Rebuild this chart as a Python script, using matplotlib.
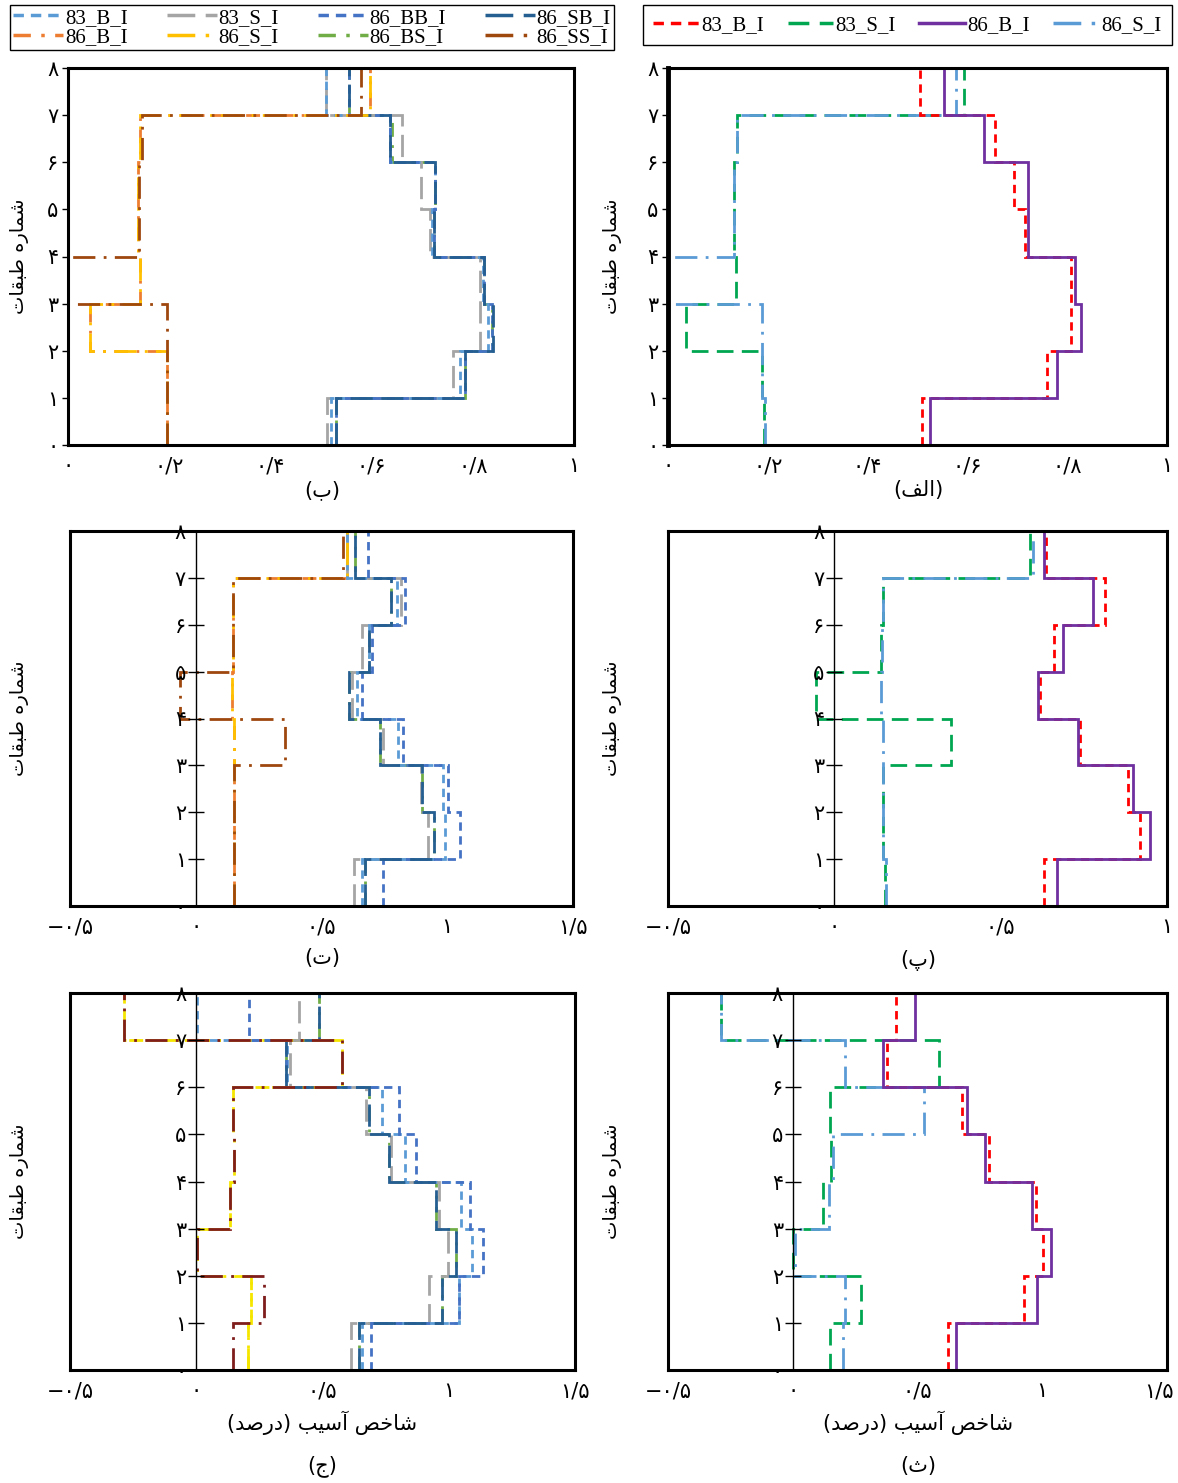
import matplotlib
matplotlib.use("Agg")
import matplotlib.pyplot as plt
from matplotlib.lines import Line2D
from matplotlib.transforms import ScaledTranslation
import numpy as np

W, H = 1178, 1483
plt.rcParams["font.family"] = ["DejaVu Sans"]

# storey levels and tick values
floor_edges = np.arange(0, 9)
floor_ticks = [0, 1, 2, 3, 4, 5, 6, 7, 8]
xticks_top = [0, 0.2, 0.4, 0.6, 0.8, 1]
xticks_wide = [-0.5, 0, 0.5, 1, 1.5]
xticks_mid_right = [-0.5, 0, 0.5, 1]

# damage index of each storey, storey 1 (bottom) .. storey 8 (top)
panel_b = {
    "83_B_I":  [0.520, 0.775, 0.830, 0.820, 0.720, 0.725, 0.637, 0.510],
    "83_S_I":  [0.512, 0.761, 0.814, 0.814, 0.715, 0.698, 0.660, 0.510],
    "86_BB_I": [0.529, 0.784, 0.837, 0.822, 0.723, 0.725, 0.637, 0.556],
    "86_SB_I": [0.529, 0.784, 0.840, 0.822, 0.723, 0.725, 0.637, 0.556],
    "86_B_I":  [0.195, 0.195, 0.043, 0.142, 0.139, 0.139, 0.142, 0.596],
    "86_S_I":  [0.195, 0.195, 0.043, 0.142, 0.139, 0.139, 0.142, 0.596],
    "86_BS_I": [0.529, 0.784, 0.837, 0.822, 0.723, 0.725, 0.640, 0.556],
    "86_SS_I": [0.195, 0.195, 0.195, 0.000, 0.140, 0.140, 0.146, 0.580],
}
panel_alef = {
    "83_B_I": [0.509, 0.759, 0.807, 0.807, 0.715, 0.693, 0.656, 0.506],
    "83_S_I": [0.193, 0.189, 0.036, 0.137, 0.133, 0.132, 0.139, 0.593],
    "86_B_I": [0.526, 0.780, 0.828, 0.815, 0.721, 0.721, 0.633, 0.553],
    "86_S_I": [0.194, 0.189, 0.189, 0.000, 0.133, 0.132, 0.139, 0.578],
}
panel_te = {
    "83_B_I":  [0.660, 0.990, 0.985, 0.805, 0.640, 0.690, 0.800, 0.600],
    "83_S_I":  [0.630, 0.922, 0.897, 0.744, 0.620, 0.660, 0.817, 0.600],
    "86_BB_I": [0.744, 1.049, 1.003, 0.825, 0.660, 0.700, 0.833, 0.683],
    "86_SB_I": [0.673, 0.947, 0.901, 0.732, 0.610, 0.690, 0.778, 0.635],
    "86_B_I":  [0.154, 0.151, 0.151, 0.151, 0.143, 0.148, 0.148, 0.600],
    "86_S_I":  [0.154, 0.151, 0.151, 0.151, 0.143, 0.148, 0.148, 0.600],
    "86_BS_I": [0.673, 0.947, 0.901, 0.732, 0.610, 0.690, 0.778, 0.635],
    "86_SS_I": [0.154, 0.151, 0.151, 0.356, -0.062, 0.148, 0.148, 0.584],
}
panel_pe = {
    "83_B_I": [0.631, 0.920, 0.884, 0.738, 0.619, 0.661, 0.815, 0.636],
    "83_S_I": [0.152, 0.147, 0.147, 0.351, -0.054, 0.141, 0.147, 0.589],
    "86_B_I": [0.670, 0.948, 0.898, 0.733, 0.611, 0.688, 0.777, 0.631],
    "86_S_I": [0.154, 0.147, 0.147, 0.147, 0.141, 0.144, 0.147, 0.597],
}
panel_jim = {
    "83_B_I":  [0.655, 1.042, 1.094, 1.049, 0.827, 0.736, 0.360, 0.003],
    "83_S_I":  [0.611, 0.921, 0.999, 0.963, 0.772, 0.671, 0.372, 0.407],
    "86_BB_I": [0.691, 1.042, 1.135, 1.084, 0.872, 0.804, 0.354, 0.210],
    "86_SB_I": [0.646, 0.974, 1.029, 0.951, 0.765, 0.686, 0.354, 0.487],
    "86_B_I":  [0.203, 0.218, 0.003, 0.135, 0.150, 0.147, 0.577, -0.286],
    "86_S_I":  [0.203, 0.218, 0.003, 0.135, 0.150, 0.147, 0.577, -0.286],
    "86_BS_I": [0.646, 0.974, 1.029, 0.951, 0.765, 0.686, 0.354, 0.487],
    "86_SS_I": [0.145, 0.268, 0.003, 0.135, 0.150, 0.147, 0.577, -0.286],
}
panel_se = {
    "83_B_I": [0.623, 0.927, 1.004, 0.975, 0.786, 0.679, 0.379, 0.413],
    "83_S_I": [0.149, 0.272, 0.000, 0.121, 0.154, 0.149, 0.587, -0.286],
    "86_B_I": [0.654, 0.978, 1.037, 0.957, 0.771, 0.697, 0.361, 0.491],
    "86_S_I": [0.203, 0.209, 0.009, 0.146, 0.161, 0.528, 0.209, -0.286],
}

left_styles = {
    "83_B_I":  ("#5B9BD5", (0, (3, 2))),
    "83_S_I":  ("#A5A5A5", (0, (8, 3))),
    "86_BB_I": ("#4472C4", (0, (3, 2))),
    "86_SB_I": ("#255E91", (0, (8, 3))),
    "86_B_I":  ("#ED7D31", (0, (5, 3, 1, 3))),
    "86_S_I":  ("#FFC000", (0, (8, 3, 1, 3))),
    "86_BS_I": ("#70AD47", (0, (5, 3, 1, 3))),
    "86_SS_I": ("#9E480E", (0, (8, 3, 1, 3))),
}
right_styles = {
    "83_B_I": ("#FF0000", (0, (3, 2))),
    "83_S_I": ("#00A650", (0, (6, 3))),
    "86_B_I": ("#7030A0", "-"),
    "86_S_I": ("#5B9BD5", (0, (8, 3, 1, 3))),
}
left_draw = ["86_BS_I", "86_B_I", "83_S_I", "83_B_I", "86_BB_I", "86_SB_I", "86_S_I", "86_SS_I"]
right_draw = ["83_S_I", "86_S_I", "83_B_I", "86_B_I"]

FA_DIGITS = str.maketrans("0123456789", "۰۱۲۳۴۵۶۷۸۹")


def fa_num(v):
    return ("%g" % v).replace(".", "/").replace("-", "−").translate(FA_DIGITS)


# Arabic-script letter forms: isolated, final, initial, medial
FORMS = {
    "ا": ("\uFE8D", "\uFE8E", None, None),
    "آ": ("\uFE81", "\uFE82", None, None),
    "ب": ("\uFE8F", "\uFE90", "\uFE91", "\uFE92"),
    "پ": ("\uFB56", "\uFB57", "\uFB58", "\uFB59"),
    "ت": ("\uFE95", "\uFE96", "\uFE97", "\uFE98"),
    "ث": ("\uFE99", "\uFE9A", "\uFE9B", "\uFE9C"),
    "ج": ("\uFE9D", "\uFE9E", "\uFE9F", "\uFEA0"),
    "خ": ("\uFEA5", "\uFEA6", "\uFEA7", "\uFEA8"),
    "د": ("\uFEA9", "\uFEAA", None, None),
    "ر": ("\uFEAD", "\uFEAE", None, None),
    "س": ("\uFEB1", "\uFEB2", "\uFEB3", "\uFEB4"),
    "ش": ("\uFEB5", "\uFEB6", "\uFEB7", "\uFEB8"),
    "ص": ("\uFEB9", "\uFEBA", "\uFEBB", "\uFEBC"),
    "ط": ("\uFEC1", "\uFEC2", "\uFEC3", "\uFEC4"),
    "ف": ("\uFED1", "\uFED2", "\uFED3", "\uFED4"),
    "ق": ("\uFED5", "\uFED6", "\uFED7", "\uFED8"),
    "ل": ("\uFEDD", "\uFEDE", "\uFEDF", "\uFEE0"),
    "م": ("\uFEE1", "\uFEE2", "\uFEE3", "\uFEE4"),
    "ه": ("\uFEE9", "\uFEEA", "\uFEEB", "\uFEEC"),
    "ی": ("\uFBFC", "\uFBFD", "\uFBFE", "\uFBFF"),
}


def fa(text):
    # join letters and lay them out right to left for a left-to-right renderer
    out = []
    for i, ch in enumerate(text):
        if ch not in FORMS:
            out.append(ch)
            continue
        prev = text[i - 1] if i > 0 else ""
        nxt = text[i + 1] if i + 1 < len(text) else ""
        iso, fin, ini, med = FORMS[ch]
        join_prev = prev in FORMS and FORMS[prev][2] is not None
        join_next = ini is not None and nxt in FORMS
        if join_prev and join_next:
            out.append(med)
        elif join_prev:
            out.append(fin)
        elif join_next:
            out.append(ini)
        else:
            out.append(iso)
    return "".join(reversed(out)).translate(str.maketrans("()", ")("))


def px_rect(x0, y0, x1, y1):
    return [x0 / W, 1 - y1 / H, (x1 - x0) / W, (y1 - y0) / H]


def setup(ax, xticks, zero_axis, thick_left=False, pull_last=False):
    ax.set_xlim(xticks[0], xticks[-1])
    ax.set_ylim(0, 8)
    ax.set_xticks(xticks)
    ax.set_xticklabels([fa_num(v) for v in xticks])
    ax.set_yticks(floor_ticks)
    ax.set_yticklabels([fa_num(v) for v in floor_ticks])
    ax.tick_params(axis="x", length=0, pad=8, labelsize=15)
    for sp in ax.spines.values():
        sp.set_linewidth(2.2)
    if zero_axis:
        ax.spines["left"].set_position(("data", 0))
        ax.spines["left"].set_linewidth(1.0)
        ax.tick_params(axis="y", direction="inout", length=12, width=1, pad=1, labelsize=15)
        ax.axvline(xticks[0], color="k", lw=2.2, clip_on=False)
    else:
        ax.tick_params(axis="y", direction="out", length=4, width=1, pad=3, labelsize=15)
        if thick_left:
            ax.spines["left"].set_linewidth(3.5)
    if pull_last:
        # keep the right-most label inside the page
        lab = ax.get_xticklabels()[-1]
        lab.set_transform(lab.get_transform() + ScaledTranslation(-6 / 72, 0, fig.dpi_scale_trans))


def draw(ax, data, styles, order, colors=None):
    for name in order:
        color, ls = styles[name]
        if colors and name in colors:
            color = colors[name]
        ax.stairs(data[name], floor_edges, orientation="horizontal", baseline=None,
                  color=color, linestyle=ls, lw=2.0)


fig = plt.figure(figsize=(W / 100, H / 100), dpi=100)

ax_b = fig.add_axes(px_rect(68, 68, 574, 445))
ax_alef = fig.add_axes(px_rect(668, 68, 1167, 445))
ax_te = fig.add_axes(px_rect(70, 531, 573, 906))
ax_pe = fig.add_axes(px_rect(668, 531, 1167, 906))
ax_jim = fig.add_axes(px_rect(70, 993, 575, 1370))
ax_se = fig.add_axes(px_rect(668, 993, 1167, 1370))

draw(ax_b, panel_b, left_styles, left_draw)
draw(ax_alef, panel_alef, right_styles, right_draw)
draw(ax_te, panel_te, left_styles, left_draw)
draw(ax_pe, panel_pe, right_styles, right_draw)
draw(ax_jim, panel_jim, left_styles, left_draw,
     colors={"86_S_I": "#F5E600", "86_B_I": "#F5E600", "86_SS_I": "#7F1D1D"})
draw(ax_se, panel_se, right_styles, right_draw)

setup(ax_b, xticks_top, False)
setup(ax_alef, xticks_top, False, thick_left=True)
setup(ax_te, xticks_wide, True)
setup(ax_pe, xticks_mid_right, True)
setup(ax_jim, xticks_wide, True)
setup(ax_se, xticks_wide, True, pull_last=True)

# legends
left_rows = [["83_B_I", "83_S_I", "86_BB_I", "86_SB_I"],
             ["86_B_I", "86_S_I", "86_BS_I", "86_SS_I"]]
left_order = [n for pair in zip(*left_rows) for n in pair]
left_handles = [Line2D([], [], color=left_styles[n][0], linestyle=left_styles[n][1], lw=2.5)
                for n in left_order]
leg = fig.legend(left_handles, left_order, loc="upper left", ncol=4, mode="expand",
                 bbox_to_anchor=(10 / W, 1 - 56 / H, 604 / W, 51 / H), borderaxespad=0,
                 prop={"family": "Liberation Serif", "size": 15}, handlelength=2.4,
                 handletextpad=0.1, labelspacing=0.0, borderpad=0.15, fancybox=False,
                 edgecolor="black", framealpha=1)
leg.get_frame().set_linewidth(1.0)

right_order = ["83_B_I", "83_S_I", "86_B_I", "86_S_I"]
right_handles = [Line2D([], [], color=right_styles[n][0], linestyle=right_styles[n][1], lw=2.5)
                 for n in right_order]
leg2 = fig.legend(right_handles, right_order, loc="upper left", ncol=4, mode="expand",
                  bbox_to_anchor=(643 / W, 1 - 53 / H, 529 / W, 48 / H), borderaxespad=0,
                  prop={"family": "Liberation Serif", "size": 15}, handlelength=2.2,
                  handletextpad=0.1, borderpad=0.5, fancybox=False,
                  edgecolor="black", framealpha=1)
leg2.get_frame().set_linewidth(1.0)

# axis titles and panel captions
ylab = fa("شماره طبقات")
for x in (20, 612):
    for yc in (256, 718, 1181):
        fig.text(x / W, 1 - yc / H, ylab, rotation=90, ha="center", va="center", fontsize=14)

xlab = fa("شاخص آسیب (درصد)")
for x in (322, 918):
    fig.text(x / W, 1 - 1423 / H, xlab, ha="center", va="center", fontsize=15)

captions = [("ب", 322, 490), ("الف", 918, 490), ("ت", 322, 958),
            ("پ", 918, 960), ("ج", 322, 1466), ("ث", 918, 1466)]
for label, x, y in captions:
    fig.text(x / W, 1 - y / H, fa("(" + label + ")"), ha="center", va="center", fontsize=15)

fig.savefig("out.png", dpi=100)
